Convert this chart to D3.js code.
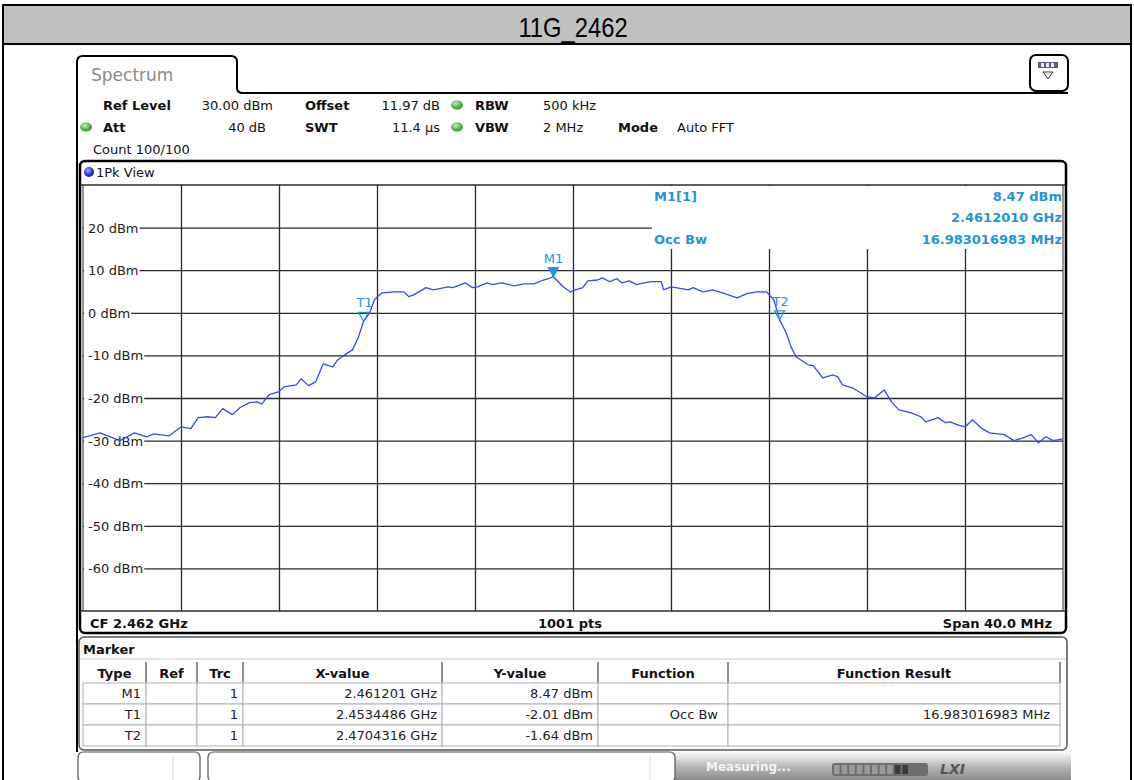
<!DOCTYPE html>
<html>
<head>
<meta charset="UTF-8">
<title>11G_2462</title>
<script src="https://d3js.org/d3.v7.min.js"></script>
<style>
body { margin: 0; background: #fff; }
text { font-family: "DejaVu Sans", Verdana, sans-serif; }
</style>
</head>
<body>
<svg id="chart" width="1134" height="780"></svg>
<script>
// trace (MHz, dBm)
var freqMHz = [2442.0, 2442.7, 2443.5, 2444.1, 2444.6, 2444.9, 2445.5, 2446.0, 2446.4, 2446.7,
  2447.1, 2447.4, 2447.7, 2448.1, 2448.4, 2448.8, 2449.1, 2449.3, 2449.6, 2450.0,
  2450.2, 2450.7, 2450.9, 2451.2, 2451.5, 2451.8, 2452.2, 2452.4, 2452.8, 2453.0,
  2453.25, 2453.45, 2453.7, 2453.9, 2454.2, 2454.7, 2455.1, 2455.3, 2455.5, 2456.0,
  2456.3, 2456.9, 2457.1, 2457.6, 2457.9, 2458.1, 2458.5, 2458.7, 2459.1, 2459.6,
  2460.0, 2460.4, 2460.8, 2461.0, 2461.2, 2461.4, 2461.6, 2461.9, 2462.1, 2462.4,
  2462.6, 2463.0, 2463.2, 2463.5, 2463.8, 2464.0, 2464.3, 2464.6, 2464.9, 2465.2,
  2465.6, 2465.7, 2466.0, 2466.2, 2466.7, 2466.9, 2467.3, 2467.7, 2468.1, 2468.7,
  2469.1, 2469.5, 2469.9, 2470.2, 2470.43, 2470.7, 2470.9, 2471.1, 2471.6, 2471.8,
  2472.2, 2472.6, 2472.8, 2473.0, 2473.4, 2474.0, 2474.3, 2474.7, 2475.0, 2475.3,
  2475.8, 2476.2, 2476.4, 2476.9, 2477.2, 2477.4, 2477.7, 2478.0, 2478.3, 2478.7,
  2479.0, 2479.6, 2480.0, 2480.4, 2480.7, 2481.0, 2481.3, 2481.6, 2482.0];
var levelDbm = [-29.3, -28.2, -30.0, -28.2, -29.1, -28.4, -28.9, -26.8, -27.2, -24.6,
  -24.4, -24.6, -22.5, -23.9, -22.3, -21.1, -20.9, -21.4, -19.2, -18.5,
  -17.4, -16.9, -15.5, -17.1, -16.2, -12.0, -12.7, -11.0, -9.4, -8.7,
  -5.6, -2.0, 0.0, 3.1, 4.7, 4.9, 4.9, 3.8, 4.2, 5.9,
  5.4, 6.1, 5.9, 7.0, 5.9, 6.1, 7.0, 6.6, 7.0, 6.3,
  6.8, 6.8, 7.7, 8.0, 8.47, 7.3, 6.1, 4.9, 5.4, 5.9,
  7.5, 7.7, 8.2, 7.3, 8.0, 7.0, 7.5, 6.6, 7.0, 7.3,
  7.3, 5.4, 6.1, 5.9, 5.4, 5.9, 4.9, 5.4, 4.7, 3.5,
  4.5, 4.9, 4.9, 3.0, -1.6, -4.7, -8.0, -10.3, -12.2, -12.4,
  -15.3, -14.6, -15.0, -16.9, -17.6, -19.7, -20.0, -18.1, -20.9, -22.8,
  -23.5, -24.4, -25.6, -24.6, -25.8, -25.6, -26.3, -26.8, -25.1, -27.2,
  -28.2, -28.6, -30.0, -29.3, -28.6, -30.5, -29.1, -30.0, -29.6];

var xDomain = [2442, 2482];
var yDomain = [-70, 30];
var xDivisions = [2446, 2450, 2454, 2458, 2462, 2466, 2470, 2474, 2478];
var yTickValues = [20, 10, 0, -10, -20, -30, -40, -50, -60];

var markerNames = ["M1", "T1", "T2"];
var markerFreq = [2461.201, 2453.4486, 2470.4316];
var markerLevel = [8.47, -2.01, -1.64];

var tableHeader = ["Type", "Ref", "Trc", "X-value", "Y-value", "Function", "Function Result"];
var tableRows = [
  ["M1", "", "1", "2.461201 GHz", "8.47 dBm", "", ""],
  ["T1", "", "1", "2.4534486 GHz", "-2.01 dBm", "Occ Bw", "16.983016983 MHz"],
  ["T2", "", "1", "2.4704316 GHz", "-1.64 dBm", "", ""]
];

var markerBlue = "#1e96dc";
var traceBlue = "#3548ff";
var svg = d3.select("#chart");

// gradients
var defs = svg.append("defs");
var gDot = defs.append("radialGradient").attr("id", "greenDot").attr("cx", "40%").attr("cy", "35%").attr("r", "70%");
gDot.append("stop").attr("offset", "0%").attr("stop-color", "#c8f0b8");
gDot.append("stop").attr("offset", "60%").attr("stop-color", "#4fb548");
gDot.append("stop").attr("offset", "100%").attr("stop-color", "#2f8a2c");
var bDot = defs.append("radialGradient").attr("id", "blueDot").attr("cx", "40%").attr("cy", "35%").attr("r", "70%");
bDot.append("stop").attr("offset", "0%").attr("stop-color", "#9fb0ff");
bDot.append("stop").attr("offset", "60%").attr("stop-color", "#2238e0");
bDot.append("stop").attr("offset", "100%").attr("stop-color", "#10208a");
var statusGrad = defs.append("linearGradient").attr("id", "statusGrad").attr("x1", 0).attr("y1", 0).attr("x2", 0).attr("y2", 1);
statusGrad.append("stop").attr("offset", "0%").attr("stop-color", "#fafafa");
statusGrad.append("stop").attr("offset", "55%").attr("stop-color", "#b4b4b4");
statusGrad.append("stop").attr("offset", "100%").attr("stop-color", "#8c8c8c");

// title strip and page border
svg.append("rect").attr("x", 3).attr("y", 5).attr("width", 1128).attr("height", 39)
  .attr("fill", "#c0c0c0").attr("stroke", "#000").attr("stroke-width", 2);
svg.append("text").attr("x", 0).attr("y", 0).attr("text-anchor", "middle")
  .attr("transform", "translate(573,37) scale(0.88,1)")
  .style("font-family", "'Liberation Sans Narrow', 'Liberation Sans', Arial, sans-serif")
  .style("font-size", "27px").attr("fill", "#000").text("11G_2462");
svg.append("line").attr("x1", 3).attr("x2", 3).attr("y1", 44).attr("y2", 780).attr("stroke", "#000").attr("stroke-width", 2);
svg.append("line").attr("x1", 1131).attr("x2", 1131).attr("y1", 44).attr("y2", 780).attr("stroke", "#000").attr("stroke-width", 2);

// Spectrum tab
svg.append("path")
  .attr("d", "M77,752 L77,62 Q77,56 83,56 L231,56 Q237,56 237,62 L237,88 Q237,93 243,93 L1068,93")
  .attr("fill", "none").attr("stroke", "#000").attr("stroke-width", 2);
svg.append("text").attr("x", 91).attr("y", 81).attr("fill", "#8a8a8a").style("font-size", "17px").text("Spectrum");

// icon box top right
svg.append("rect").attr("x", 1030).attr("y", 55).attr("width", 38).attr("height", 36).attr("rx", 6)
  .attr("fill", "#fff").attr("stroke", "#000").attr("stroke-width", 2);
svg.append("rect").attr("x", 1038).attr("y", 62).attr("width", 20).attr("height", 6).attr("fill", "#5a5f7a");
[1041, 1046, 1051].forEach(function(px) {
  svg.append("rect").attr("x", px).attr("y", 63).attr("width", 3).attr("height", 4).attr("fill", "#e8e8f0");
});
svg.append("path").attr("d", "M1043,72 L1053,72 L1048,79 Z").attr("fill", "none").attr("stroke", "#333").attr("stroke-width", 1);

// settings lines
function setText(x, y, s, bold, anchor) {
  return svg.append("text").attr("x", x).attr("y", y).attr("text-anchor", anchor || "start")
    .style("font-size", "13px").style("font-weight", bold ? "bold" : "normal").attr("fill", "#111").text(s);
}
function greenDot(cx, cy) {
  svg.append("ellipse").attr("cx", cx).attr("cy", cy).attr("rx", 6).attr("ry", 4.5).attr("fill", "url(#greenDot)");
}
setText(103, 110, "Ref Level", true);
setText(273, 110, "30.00 dBm", false, "end");
setText(305, 110, "Offset", true);
setText(440, 110, "11.97 dB", false, "end");
greenDot(457, 105);
setText(475, 110, "RBW", true);
setText(543, 110, "500 kHz", false);
greenDot(86, 127);
setText(103, 132, "Att", true);
setText(266, 132, "40 dB", false, "end");
setText(305, 132, "SWT", true);
setText(440, 132, "11.4 µs", false, "end");
greenDot(457, 127);
setText(475, 132, "VBW", true);
setText(543, 132, "2 MHz", false);
setText(618, 132, "Mode", true);
setText(677, 132, "Auto FFT", false);
setText(93, 154, "Count 100/100", false);

// plot window
var plotLeft = 83, plotRight = 1063, plotTop = 185, plotBottom = 611;
var x = d3.scaleLinear().domain(xDomain).range([plotLeft, plotRight]);
var y = d3.scaleLinear().domain(yDomain).range([plotBottom, plotTop]);

svg.append("rect").attr("x", 80).attr("y", 161).attr("width", 986).attr("height", 472).attr("rx", 5)
  .attr("fill", "#fff").attr("stroke", "#000").attr("stroke-width", 2.5);
svg.append("circle").attr("cx", 89).attr("cy", 172).attr("r", 5).attr("fill", "url(#blueDot)");
setText(96, 177, "1Pk View", false);

var gridColor = "#2a2a2a";
var xGrid = svg.append("g").attr("transform", "translate(0," + plotBottom + ")")
  .call(d3.axisBottom(x).tickValues(xDivisions).tickSize(-(plotBottom - plotTop)).tickFormat(""));
var yGrid = svg.append("g").attr("transform", "translate(" + plotLeft + ",0)")
  .call(d3.axisLeft(y).tickValues(yTickValues).tickSize(-(plotRight - plotLeft)).tickFormat(""));
[xGrid, yGrid].forEach(function(g) {
  g.select(".domain").remove();
  g.selectAll(".tick line").attr("stroke", gridColor).attr("stroke-width", 1.3);
});

// box behind the marker readout
svg.append("rect").attr("x", 652).attr("y", 186).attr("width", plotRight - 652).attr("height", 63).attr("fill", "#fff");

// level labels sit on top of the grid with a white back
yTickValues.forEach(function(v) {
  var t = svg.append("text").attr("x", 88).attr("y", y(v) + 5)
    .style("font-size", "13px").attr("fill", "#222").text(v + " dBm");
  var bb = t.node().getBBox();
  svg.insert("rect", function() { return t.node(); })
    .attr("x", plotLeft + 1).attr("y", y(v) - 2).attr("width", bb.x + bb.width - plotLeft).attr("height", 4).attr("fill", "#fff");
});

// frame lines of the grid
svg.append("line").attr("x1", 80).attr("x2", 1066).attr("y1", plotTop).attr("y2", plotTop).attr("stroke", gridColor).attr("stroke-width", 1.5);
svg.append("line").attr("x1", 80).attr("x2", 1066).attr("y1", plotBottom).attr("y2", plotBottom).attr("stroke", gridColor).attr("stroke-width", 1.5);
svg.append("line").attr("x1", plotLeft).attr("x2", plotLeft).attr("y1", plotTop).attr("y2", plotBottom).attr("stroke", gridColor).attr("stroke-width", 1);
svg.append("line").attr("x1", plotRight).attr("x2", plotRight).attr("y1", plotTop).attr("y2", plotBottom).attr("stroke", gridColor).attr("stroke-width", 1);

// trace
var line = d3.line().x(function(d) { return x(d[0]); }).y(function(d) { return y(d[1]); });
svg.append("path").datum(d3.zip(freqMHz, levelDbm)).attr("d", line)
  .attr("fill", "none").attr("stroke", traceBlue).attr("stroke-width", 1.3).attr("stroke-linejoin", "round");

// markers
markerNames.forEach(function(name, i) {
  var mx = x(markerFreq[i]), my = y(markerLevel[i]);
  var filled = name.charAt(0) == "M";
  svg.append("path").attr("d", "M" + (mx - 5) + "," + (my - 9) + " L" + (mx + 5) + "," + (my - 9) + " L" + mx + "," + my + " Z")
    .attr("fill", filled ? markerBlue : "none").attr("stroke", markerBlue).attr("stroke-width", 1.2);
  svg.append("text").attr("x", mx + (filled ? 0 : 1)).attr("y", my - 14).attr("text-anchor", "middle")
    .style("font-size", "13px").attr("fill", markerBlue).text(name);
});

// marker readout
function readout(x0, y0, s, anchor) {
  svg.append("text").attr("x", x0).attr("y", y0).attr("text-anchor", anchor)
    .style("font-size", "13px").style("font-weight", "bold").attr("fill", markerBlue).text(s);
}
readout(654, 201, "M1[1]", "start");
readout(1062, 201, markerLevel[0].toFixed(2) + " dBm", "end");
readout(1062, 222, "2.4612010 GHz", "end");
readout(654, 244, "Occ Bw", "start");
readout(1062, 244, tableRows[1][6], "end");

// footer of the plot
setText(90, 628, "CF 2.462 GHz", true);
setText(570, 628, "1001 pts", true, "middle");
setText(1052, 628, "Span 40.0 MHz", true, "end");

// marker table
svg.append("rect").attr("x", 79).attr("y", 637).attr("width", 988).attr("height", 113).attr("rx", 5)
  .attr("fill", "#fff").attr("stroke", "#555").attr("stroke-width", 1.5);
setText(83, 654, "Marker", true);
svg.append("line").attr("x1", 80).attr("x2", 1066).attr("y1", 659).attr("y2", 659).attr("stroke", "#ccc");
var colEdges = [83, 146, 197, 243, 442, 598, 728, 1060];
var rowTop = 683, rowH = 21;
tableHeader.forEach(function(h, j) {
  setText((colEdges[j] + colEdges[j + 1]) / 2, 678, h, true, "middle");
  if (j > 0) {
    svg.append("line").attr("x1", colEdges[j]).attr("x2", colEdges[j]).attr("y1", 662).attr("y2", rowTop)
      .attr("stroke", "#444").attr("stroke-width", 1.2);
  }
});
svg.append("line").attr("x1", 1060).attr("x2", 1060).attr("y1", 662).attr("y2", rowTop).attr("stroke", "#444").attr("stroke-width", 1.2);
tableRows.forEach(function(row, i) {
  var ry = rowTop + i * rowH;
  row.forEach(function(cell, j) {
    svg.append("rect").attr("x", colEdges[j]).attr("y", ry).attr("width", colEdges[j + 1] - colEdges[j]).attr("height", rowH)
      .attr("fill", "#fff").attr("stroke", "#b0b0b0").attr("stroke-width", 1);
    if (cell) {
      svg.append("text").attr("x", colEdges[j + 1] - (j >= 5 ? 10 : 5)).attr("y", ry + 15).attr("text-anchor", "end")
        .style("font-size", "13px").attr("fill", "#222").text(cell);
    }
  });
});

// status bar
svg.append("rect").attr("x", 675).attr("y", 752).attr("width", 396).attr("height", 28).attr("fill", "url(#statusGrad)");
svg.append("rect").attr("x", 78).attr("y", 752).attr("width", 122).attr("height", 30).attr("rx", 5)
  .attr("fill", "#fff").attr("stroke", "#555").attr("stroke-width", 1.2);
svg.append("line").attr("x1", 173).attr("x2", 173).attr("y1", 756).attr("y2", 780).attr("stroke", "#ddd");
svg.append("rect").attr("x", 208).attr("y", 752).attr("width", 467).attr("height", 30).attr("rx", 5)
  .attr("fill", "#fff").attr("stroke", "#555").attr("stroke-width", 1.2);
svg.append("line").attr("x1", 650).attr("x2", 650).attr("y1", 756).attr("y2", 780).attr("stroke", "#ddd");
svg.append("text").attr("x", 706).attr("y", 771).style("font-size", "12px").style("font-weight", "bold")
  .attr("fill", "#f4f4f4").text("Measuring...");
svg.append("rect").attr("x", 832).attr("y", 763).attr("width", 96).attr("height", 13).attr("rx", 3).attr("fill", "#6e6e6e");
d3.range(10).forEach(function(k) {
  svg.append("rect").attr("x", 834 + k * 7.6).attr("y", 765).attr("width", 5.6).attr("height", 9)
    .attr("fill", k > 7 ? "#3a3a3a" : "#9a9a9a");
});
svg.append("text").attr("x", 940).attr("y", 774).style("font-size", "14px").style("font-weight", "bold")
  .style("font-style", "italic").attr("fill", "#555").text("LXI");
</script>
</body>
</html>
